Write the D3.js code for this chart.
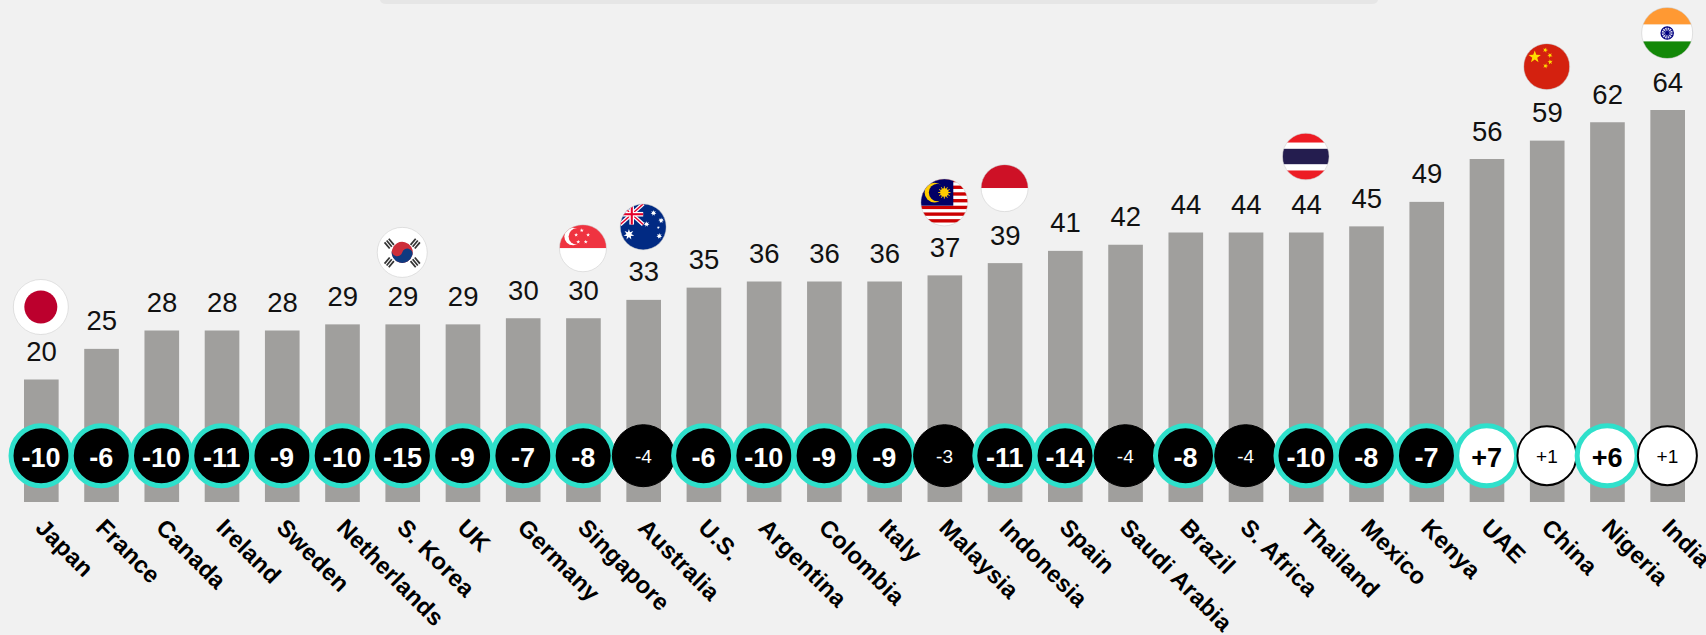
<!DOCTYPE html>
<html><head><meta charset="utf-8">
<script src="https://cdnjs.cloudflare.com/ajax/libs/d3/7.8.5/d3.min.js"></script>
<style>
html,body{margin:0;padding:0;background:#f1f1f1;overflow:hidden}
svg{display:block}
text{font-family:"Liberation Sans",Arial,sans-serif}
</style></head><body>
<svg id="c" width="1706" height="635"></svg>
<script>
const countries = ["Japan","France","Canada","Ireland","Sweden","Netherlands","S. Korea","UK","Germany","Singapore","Australia","U.S.","Argentina","Colombia","Italy","Malaysia","Indonesia","Spain","Saudi Arabia","Brazil","S. Africa","Thailand","Mexico","Kenya","UAE","China","Nigeria","India"];
const values = [20,25,28,28,28,29,29,29,30,30,33,35,36,36,36,37,39,41,42,44,44,44,45,49,56,59,62,64];
const changes = [-10,-6,-10,-11,-9,-10,-15,-9,-7,-8,-4,-6,-10,-9,-9,-3,-11,-14,-4,-8,-4,-10,-8,-7,7,1,6,1];
const flagged = ["Japan","S. Korea","Singapore","Australia","Malaysia","Indonesia","Thailand","China","India"];

const W=1706,H=635;
const svg=d3.select("#c");
svg.append("rect").attr("width",W).attr("height",H).attr("fill","#f1f1f1");
svg.append("path").attr("d","M380,0H1378Q1377,4 1372,4H386Q381,4 380,0Z").attr("fill","#e6e6e6");

const x=d3.scaleBand().domain(countries).range([24,1685]).paddingInner(0.425).paddingOuter(0);
const y=d3.scaleLinear().domain([0,64]).range([502,110]);
const cx=c=>x(c)+x.bandwidth()/2;
const rows=countries.map((c,i)=>({c,v:values[i],d:changes[i]}));

svg.append("g").selectAll("rect").data(rows).join("rect")
  .attr("x",d=>x(d.c)).attr("y",d=>y(d.v)).attr("width",x.bandwidth())
  .attr("height",d=>y(0)-y(d.v)).attr("fill","#a09f9d");

svg.append("g").selectAll("text").data(rows).join("text")
  .attr("x",d=>cx(d.c)+0.2).attr("y",d=>y(d.v)-18.5).attr("text-anchor","middle")
  .attr("font-size",27.5).attr("fill","#111").text(d=>d.v);

const badge=svg.append("g").selectAll("g").data(rows).join("g")
  .attr("transform",d=>`translate(${cx(d.c)-0.3},455.7)`);
const big=d=>Math.abs(d.d)>=5;
badge.append("circle")
  .attr("r",d=>big(d)?30:(d.d<0?31:29.5))
  .attr("fill",d=>d.d<0?"#000":"#fff")
  .attr("stroke",d=>big(d)?"#2fe0cb":"#000")
  .attr("stroke-width",d=>big(d)?5:(d.d<0?1:2));
badge.append("text").attr("text-anchor","middle")
  .attr("y",d=>big(d)?11:7.5)
  .attr("font-size",d=>big(d)?27:19)
  .attr("font-weight",d=>big(d)?"bold":"normal")
  .attr("fill",d=>d.d<0?"#fff":"#000")
  .text(d=>(d.d>0?"+":"")+d.d);

const axis=d3.axisBottom(x).tickSize(0).tickPadding(0);
const ag=svg.append("g").attr("transform","translate(0,502)").call(axis);
ag.select(".domain").remove();
ag.selectAll(".tick text")
  .attr("font-family",null)
  .attr("text-anchor","start").attr("dy",null).attr("y",null)
  .attr("transform","translate(-7,27) rotate(45)")
  .attr("font-size",23.7).attr("font-weight","bold").attr("fill","#000")
  .style("letter-spacing","0.25px")
  .style("font-family",'"Liberation Sans",Arial,sans-serif');
ag.attr("font-size",null);

/* ---- flags: each drawer works in a unit-radius local space ---- */
const defs=svg.append("defs");
defs.append("clipPath").attr("id","disc").append("circle").attr("r",1);
const R=(g,x0,y0,w,h,f)=>g.append("rect").attr("x",x0).attr("y",y0).attr("width",w).attr("height",h).attr("fill",f);
const C=(g,x0,y0,r,f)=>g.append("circle").attr("cx",x0).attr("cy",y0).attr("r",r).attr("fill",f);
const star=(g,x0,y0,s,f,rot=0)=>{
  const n=5,o=s,i=s*0.4;let p=[];
  for(let k=0;k<2*n;k++){const a=-Math.PI/2+rot+k*Math.PI/n,r=k%2?i:o;p.push([x0+r*Math.cos(a),y0+r*Math.sin(a)]);}
  g.append("path").attr("d",d3.line()(p)+"Z").attr("fill",f);
};
const star7=(g,x0,y0,s,f)=>{
  const n=7,o=s,i=s*0.45;let p=[];
  for(let k=0;k<2*n;k++){const a=-Math.PI/2+k*Math.PI/n,r=k%2?i:o;p.push([x0+r*Math.cos(a),y0+r*Math.sin(a)]);}
  g.append("path").attr("d",d3.line()(p)+"Z").attr("fill",f);
};
const L=(g,a,b,c,d,col,w)=>g.append("line").attr("x1",a).attr("y1",b).attr("x2",c).attr("y2",d).attr("stroke",col).attr("stroke-width",w);
const flagDraw={
 "Japan":g=>{R(g,-1,-1,2,2,"#fff");C(g,0,0,0.6,"#bc002d");},
 "S. Korea":g=>{R(g,-1,-1,2,2,"#fff");
   const t=g.append("g").attr("transform","rotate(15)");
   C(t,0,0,0.42,"#cd2e3a");
   t.append("path").attr("d","M-.42,0A.42,.42 0 0 0 .42,0A.21,.21 0 0 0 0,0A.21,.21 0 0 1 -.42,0Z").attr("fill","#0f3a80");
   [[-.52,-.35,-40],[.52,-.35,40],[-.52,.4,40],[.52,.4,-40]].forEach(([a,b,rot])=>{
     const q=g.append("g").attr("transform",`translate(${a},${b}) rotate(${rot+90})`);
     [-.11,0,.11].forEach(o=>R(q,-.16,o-.035,.32,.07,"#333"));
   });},
 "Singapore":g=>{R(g,-1,-1,2,1,"#ef3340");R(g,-1,0,2,1,"#fff");
   C(g,-.42,-.5,.37,"#fff");C(g,-.26,-.5,.35,"#ef3340");
   [[-.07,-.76],[.2,-.57],[.1,-.27],[-.22,-.27],[-.31,-.57]].forEach(([a,b])=>star(g,a+.02,b+.0,.09,"#fff"));},
 "Australia":g=>{R(g,-1,-1,2,2,"#012a83");
   const u=g.append("g");
   L(u,-1,-1,0,-.1,"#fff",.17);L(u,-1,-.1,0,-1,"#fff",.17);
   L(u,-1,-1,0,-.1,"#e4002b",.06);L(u,-1,-.1,0,-1,"#e4002b",.06);
   R(u,-.6,-1,.2,.9,"#fff");R(u,-1,-.65,1,.2,"#fff");
   R(u,-.54,-1,.09,.9,"#e4002b");R(u,-1,-.595,1,.09,"#e4002b");
   star7(g,-.62,.33,.24,"#fff");
   star7(g,.45,-.6,.13,"#fff");star7(g,.78,-.28,.13,"#fff");star7(g,.15,-.12,.13,"#fff");star7(g,.7,.4,.13,"#fff");star7(g,.66,.03,.07,"#fff");},
 "Malaysia":g=>{R(g,-1,-1,2,2,"#fff");
   d3.range(7).forEach(k=>R(g,-1,-1+k*2/7,2,1/7,"#cc0001"));
   R(g,-1,-1,1.38,1.14,"#010066");
   C(g,-.42,-.42,.42,"#ffcc00");C(g,-.29,-.42,.37,"#010066");
   C(g,0,-.42,.18,"#ffcc00");
   d3.range(12).forEach(k=>{const a=k*Math.PI/6;L(g,0,-.42,.26*Math.cos(a),-.42+.26*Math.sin(a),"#ffcc00",.04);});},
 "Indonesia":g=>{R(g,-1,-1,2,1,"#ce1126");R(g,-1,0,2,1,"#fff");},
 "Thailand":g=>{R(g,-1,-1,2,2,"#fff");R(g,-1,-1,2,.4,"#ed1c24");R(g,-1,.6,2,.4,"#ed1c24");R(g,-1,-.33,2,.66,"#241d4f");},
 "China":g=>{R(g,-1,-1,2,2,"#d4210f");star(g,-.52,-.42,.28,"#ffde00");
   [[-.06,-.72,.3],[.14,-.49,.7],[.15,-.2,1.1],[-.05,-.03,.3]].forEach(([a,b,r])=>star(g,a,b,.12,"#ffde00",r));},
 "India":g=>{R(g,-1,-1,2,.67,"#ff9933");R(g,-1,-.33,2,.66,"#fff");R(g,-1,.33,2,.67,"#138808");
   g.append("circle").attr("r",.24).attr("fill","#d8d8ee").attr("stroke","#000080").attr("stroke-width",.05);
   d3.range(12).forEach(k=>{const a=k*Math.PI/6;L(g,0,0,.24*Math.cos(a),.24*Math.sin(a),"#000080",.035);});C(g,0,0,.08,"#000080");}
};
const flagGap={"Japan":72.5,"S. Korea":72,"Singapore":70,"Australia":73,"Malaysia":73,"Indonesia":75,"Thailand":76,"China":74,"India":77};
const flagR={"Japan":27.5,"S. Korea":25,"Singapore":23.5,"Australia":23,"Malaysia":23.5,"Indonesia":23.5,"Thailand":23.3,"China":23,"India":25.5};
const fg=svg.append("g");
rows.filter(d=>flagged.includes(d.c)).forEach(d=>{
  const r=flagR[d.c];
  const g=fg.append("g").attr("transform",`translate(${cx(d.c)-0.5},${y(d.v)-flagGap[d.c]}) scale(${r})`);
  const inner=g.append("g").attr("clip-path","url(#disc)");
  flagDraw[d.c](inner);
  g.append("circle").attr("r",1).attr("fill","none").attr("stroke","#c9c9c9").attr("stroke-width",.5/r);
});
</script>
</body></html>
